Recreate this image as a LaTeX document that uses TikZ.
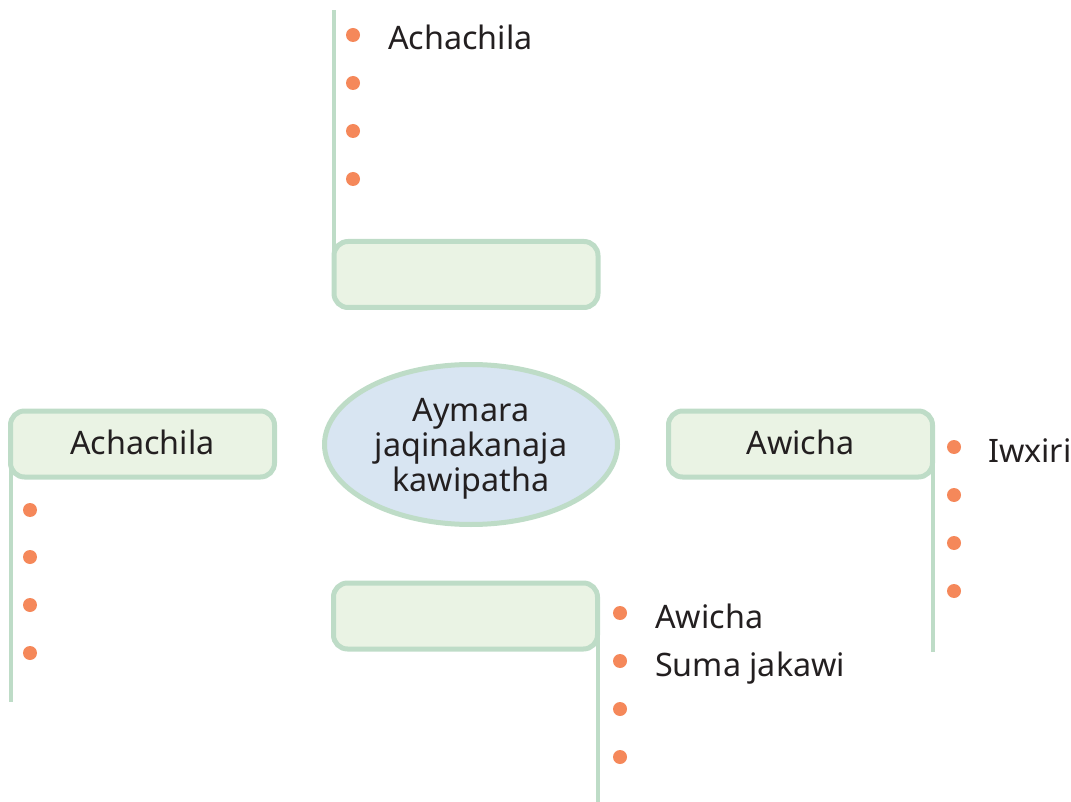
\documentclass[tikz,border=0pt]{standalone}
\usepackage{fontspec}
\setmainfont{Noto Sans}
\usetikzlibrary{shapes.geometric,backgrounds}
\definecolor{gline}{HTML}{BEDCC7}
\definecolor{gfill}{HTML}{EAF3E4}
\definecolor{bfill}{HTML}{D8E5F2}
\definecolor{dot}{HTML}{F5885A}
\definecolor{ink}{HTML}{231F20}
\tikzset{
  catbox/.style={draw=gline, fill=gfill, line width=5pt, rounded corners=14pt,
    minimum width=264pt, minimum height=66pt, inner sep=0pt, outer sep=0pt},
  hub/.style={ellipse, draw=gline, fill=bfill, line width=5pt,
    minimum width=293pt, minimum height=160pt, inner sep=0pt},
  stem/.style={draw=gline, line width=4pt},
  dotmark/.style={circle, fill=dot, minimum size=14pt, inner sep=0pt},
  plain/.style={text=ink, inner sep=0pt, font=\fontsize{32.3}{35}\selectfont},
  itemtext/.style={plain, anchor=base west}
}
\begin{document}
\begin{tikzpicture}[x=1pt,y=-1pt]
\useasboundingbox (0,0) rectangle (1071,802);
% hub
\node[hub] (hub) at (471,444.5) {};
\node[plain, align=center] (hubtext) at (471,449) {Aymara\\jaqinakanaja\\kawipatha};
% stem ends
\coordinate (etop) at (333.5,10);
\coordinate (eleft) at (10.5,702);
\coordinate (eright) at (932.5,652);
\coordinate (ebot) at (597.5,802);
% boxes
\node[catbox] (top) at (466,274.5) {};
\node[catbox] (left) at (142.5,444) {};
\node[catbox] (right) at (800.5,444) {};
\node[catbox] (bot) at (465.5,616) {};
\node[plain] (leftlabel) at ([yshift=2pt]left.center) {Achachila};
\node[plain] (rightlabel) at ([yshift=2pt]right.center) {Awicha};
% stems behind boxes
\begin{pgfonlayer}{background}
\draw[stem] (top.west) -- (top.west |- etop);
\draw[stem] (left.west) -- (left.west |- eleft);
\draw[stem] (right.east) -- (right.east |- eright);
\draw[stem] (bot.east) -- (bot.east |- ebot);
\end{pgfonlayer}
% top bullets
\node[dotmark] (t1) at (353,35) {};
\node[dotmark] (t2) at (353,83) {};
\node[dotmark] (t3) at (353,131) {};
\node[dotmark] (t4) at (353,179) {};
\node[itemtext] (t1t) at (388,50) {Achachila};
% left bullets
\node[dotmark] (l1) at (30,510) {};
\node[dotmark] (l2) at (30,557) {};
\node[dotmark] (l3) at (30,605) {};
\node[dotmark] (l4) at (30,653) {};
% right bullets
\node[dotmark] (r1) at (954,447) {};
\node[dotmark] (r2) at (954,495) {};
\node[dotmark] (r3) at (954,543) {};
\node[dotmark] (r4) at (954,591) {};
\node[itemtext] (r1t) at (988,462) {Iwxiri};
% bottom bullets
\node[dotmark] (b1) at (620,613) {};
\node[dotmark] (b2) at (620,661) {};
\node[dotmark] (b3) at (620,709) {};
\node[dotmark] (b4) at (620,757) {};
\node[itemtext] (b1t) at (655,628) {Awicha};
\node[itemtext] (b2t) at (655,676) {Suma jakawi};
\end{tikzpicture}
\end{document}
